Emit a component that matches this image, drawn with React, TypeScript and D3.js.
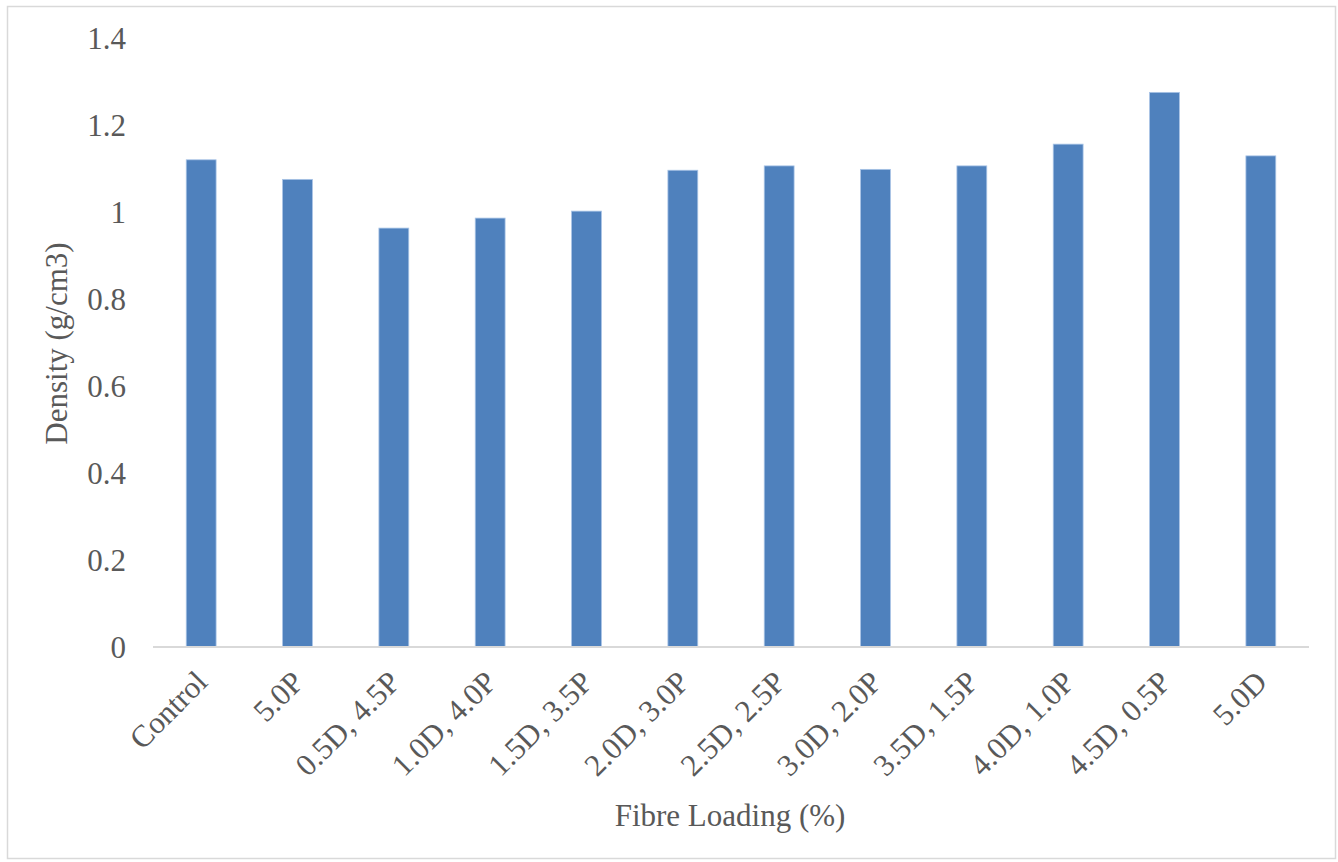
import React from "react";
import * as d3 from "d3";

const categories = ["Control", "5.0P", "0.5D, 4.5P", "1.0D, 4.0P", "1.5D, 3.5P", "2.0D, 3.0P", "2.5D, 2.5P", "3.0D, 2.0P", "3.5D, 1.5P", "4.0D, 1.0P", "4.5D, 0.5P", "5.0D"];
const densities = [1.12, 1.075, 0.963, 0.986, 1.002, 1.096, 1.106, 1.098, 1.106, 1.156, 1.275, 1.129];
const yTicks = [0, 0.2, 0.4, 0.6, 0.8, 1, 1.2, 1.4];

const W = 1338;
const H = 862;
const FONT = "'Liberation Serif', 'Times New Roman', serif";
const TEXT = "#595959";

export default function App() {
  const x = d3.scaleBand<string>().domain(categories).range([153, 1309]).paddingInner(0.69).paddingOuter(0.345);
  const y = d3.scaleLinear().domain([0, 1.4]).range([647, 38]);

  return (
    <svg width={W} height={H} style={{ position: "absolute", left: 0, top: 0, background: "#fff" }}>
      <rect x={7.5} y={6.5} width={1328} height={852} fill="#fff" stroke="#D9D9D9" strokeWidth={1.5} />
      {yTicks.map((t) => (
        <text key={t} x={126} y={y(t)} dy="0.34em" textAnchor="end" fontFamily={FONT} fontSize={31} fill={TEXT}>
          {d3.format("~g")(t)}
        </text>
      ))}
      {categories.map((c, i) => (
        <rect key={c} x={x(c)!} y={y(densities[i])} width={x.bandwidth()} height={y(0) - y(densities[i])} fill="#4F81BD" stroke="#A9C4E6" strokeWidth={0.8} />
      ))}
      <line x1={153} x2={1309} y1={y(0)} y2={y(0)} stroke="#D9D9D9" strokeWidth={2} />
      {categories.map((c) => {
        const cx = x(c)! + x.bandwidth() / 2 + 8;
        const cy = 684;
        return (
          <text key={c} x={cx} y={cy} transform={`rotate(-45 ${cx} ${cy})`} textAnchor="end" fontFamily={FONT} fontSize={31} fill={TEXT}>
            {c}
          </text>
        );
      })}
      <text x={730} y={826} textAnchor="middle" fontFamily={FONT} fontSize={31} fill={TEXT}>Fibre Loading (%)</text>
      <text x={67} y={343.5} transform="rotate(-90 67 343.5)" textAnchor="middle" fontFamily={FONT} fontSize={31} fill={TEXT}>Density (g/cm3)</text>
    </svg>
  );
}
